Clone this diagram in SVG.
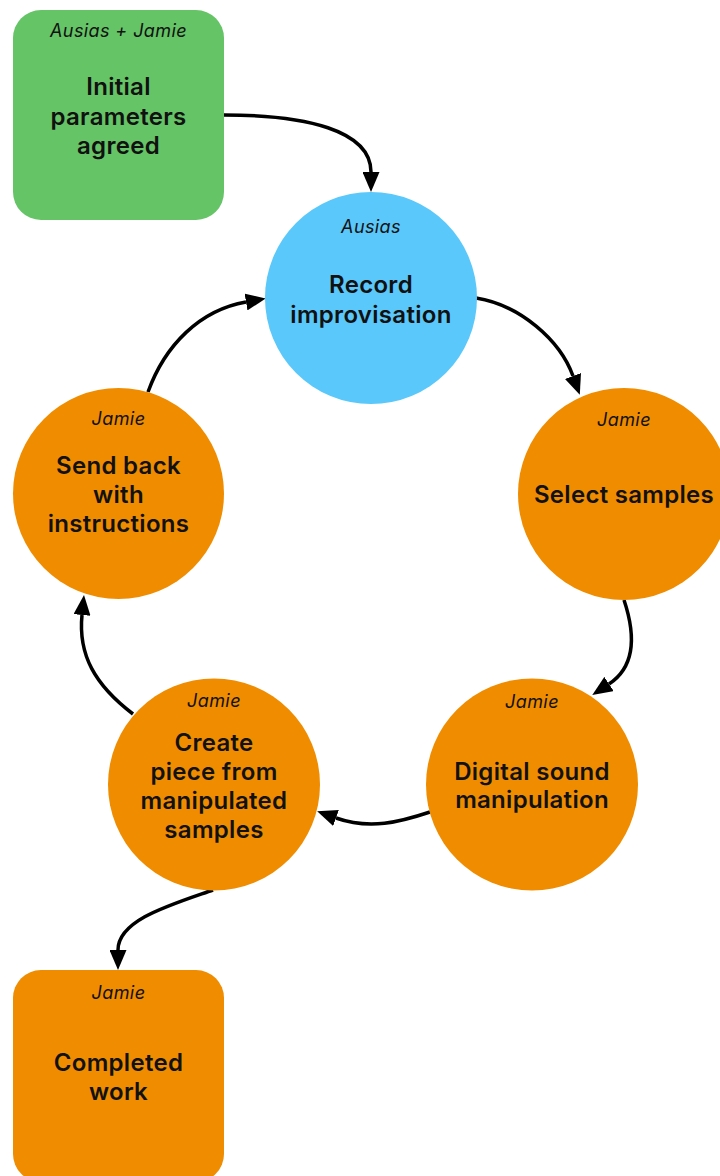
<svg xmlns="http://www.w3.org/2000/svg" width="720" height="1176" viewBox="0 0 720 1176">
<style>
.green{fill:#65c466}
.blue{fill:#5ac8fa}
.orange{fill:#f08c00}
.who{font-family:Inter,"Liberation Sans",sans-serif;font-style:italic;font-size:18px;letter-spacing:0.4px;fill:#111;text-anchor:middle}
.main{font-family:Inter,"Liberation Sans",sans-serif;font-weight:600;font-size:24px;letter-spacing:0.3px;fill:#111;text-anchor:middle}
.conn{fill:none;stroke:#000;stroke-width:3.5;marker-end:url(#arrow)}
</style>
<defs>
<marker id="arrow" markerUnits="userSpaceOnUse" viewBox="0 0 20 17" refX="0" refY="8.5" markerWidth="20" markerHeight="17" orient="auto">
<path d="M0,0 L20,8.5 L0,17 z" fill="#000"/>
</marker>
</defs>
<rect width="720" height="1176" fill="#fff"/>
<g id="connectors">
<path class="conn" d="M224,115 C305,115 371,130 371,172"/>
<path class="conn" d="M476,298 C520,305 560,340 573,376"/>
<path class="conn" d="M624,600 C634,630 638,665 609,684"/>
<path class="conn" d="M430,812 C400,822 370,830 336,818"/>
<path class="conn" d="M133,714 C95,685 78,655 82,615"/>
<path class="conn" d="M148,392 C165,345 200,310 246,302"/>
<path class="conn" d="M213,890 C170,905 118,920 118,950"/>
</g>
<g id="initial">
<rect class="green" x="13" y="10" width="211" height="210" rx="28"/>
<text class="who" x="118.5" y="37">Ausias + Jamie</text>
<text class="main" x="118.5" y="95">Initial</text>
<text class="main" x="118.5" y="125">parameters</text>
<text class="main" x="118.5" y="154">agreed</text>
</g>
<g id="record">
<circle class="blue" cx="371" cy="298" r="106"/>
<text class="who" x="371" y="233">Ausias</text>
<text class="main" x="371" y="293">Record</text>
<text class="main" x="371" y="323">improvisation</text>
</g>
<g id="select">
<circle class="orange" cx="624" cy="494" r="106"/>
<text class="who" x="624" y="426">Jamie</text>
<text class="main" x="624" y="503">Select samples</text>
</g>
<g id="digital">
<circle class="orange" cx="532" cy="784.5" r="106"/>
<text class="who" x="532" y="708">Jamie</text>
<text class="main" x="532" y="780">Digital sound</text>
<text class="main" x="532" y="808">manipulation</text>
</g>
<g id="create">
<circle class="orange" cx="214" cy="784.5" r="106"/>
<text class="who" x="214" y="707">Jamie</text>
<text class="main" x="214" y="751">Create</text>
<text class="main" x="214" y="780">piece from</text>
<text class="main" x="214" y="809">manipulated</text>
<text class="main" x="214" y="838">samples</text>
</g>
<g id="sendback">
<circle class="orange" cx="118.5" cy="493.5" r="105.5"/>
<text class="who" x="118.5" y="425">Jamie</text>
<text class="main" x="118.5" y="474">Send back</text>
<text class="main" x="118.5" y="503">with</text>
<text class="main" x="118.5" y="532">instructions</text>
</g>
<g id="completed">
<rect class="orange" x="13" y="970" width="211" height="212" rx="28"/>
<text class="who" x="118.5" y="999">Jamie</text>
<text class="main" x="118.5" y="1071">Completed</text>
<text class="main" x="118.5" y="1100">work</text>
</g>
</svg>
